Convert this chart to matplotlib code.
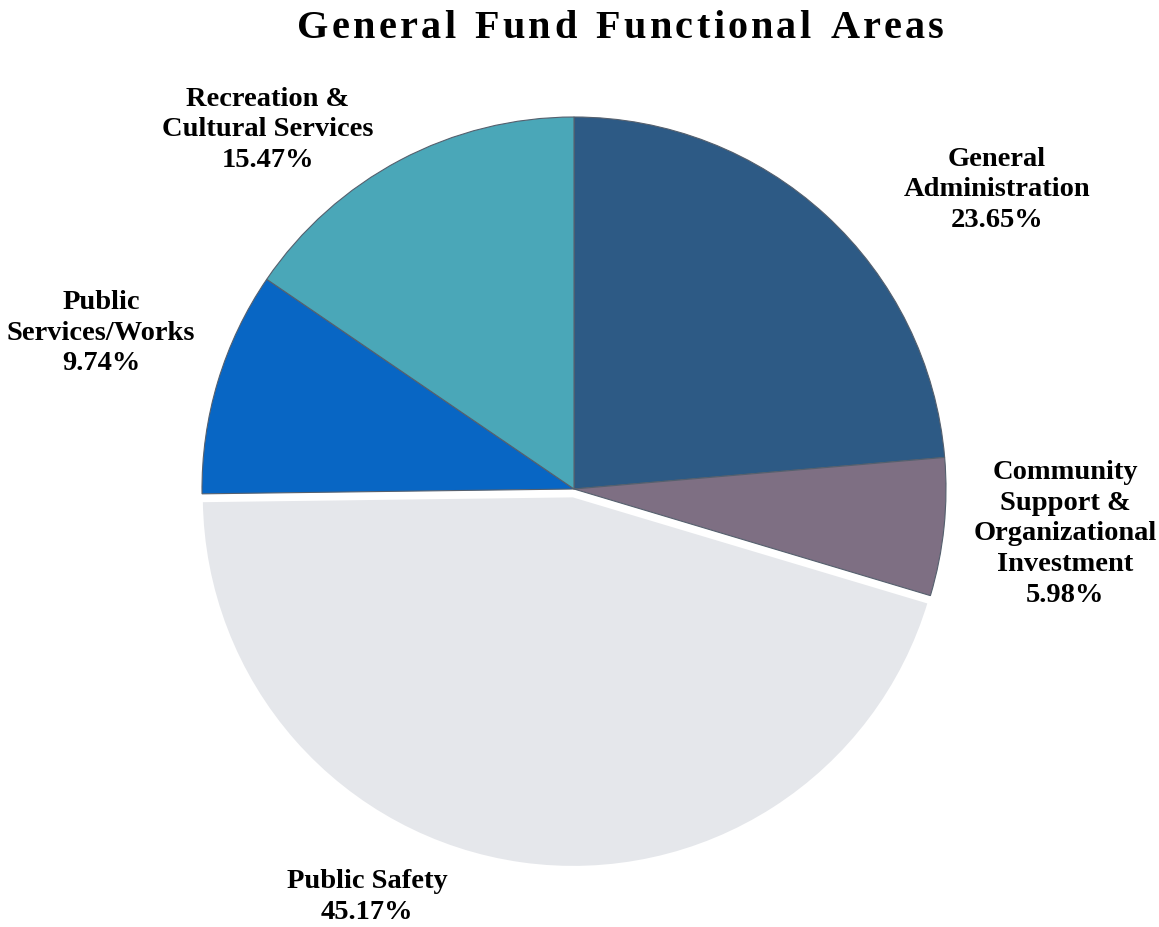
import matplotlib.pyplot as plt

categories = ["General\nAdministration", "Community\nSupport &\nOrganizational\nInvestment",
              "Public Safety", "Public\nServices/Works", "Recreation &\nCultural Services"]
shares = [23.65, 5.98, 45.17, 9.74, 15.47]
colors = ["#2d5a85", "#7e6f83", "#e5e7eb", "#0866c4", "#4aa7b8"]
title = "General Fund Functional Areas"

W, H = 1159, 928
fig = plt.figure(figsize=(W / 100, H / 100), dpi=100)
renderer = fig.canvas.get_renderer()
serif = "Liberation Serif"

# pie axes placed so the circle sits at (574, 490) px with radius 372 px
cx, cy, r = 574, 490, 372
ax = fig.add_axes([(cx - r) / W, (H - cy - r) / H, 2 * r / W, 2 * r / H])
wedges, _ = ax.pie(shares, colors=colors, startangle=90, counterclock=False,
                   explode=[0, 0, 0.018, 0, 0], radius=1,
                   wedgeprops=dict(edgecolor="#55606e", linewidth=0.8))
wedges[2].set_edgecolor("white")
wedges[2].set_linewidth(2.5)
ax.set_xlim(-1, 1)
ax.set_ylim(-1, 1)
ax.set_aspect("equal")
ax.axis("off")


def spaced_text(s, x0, x1, y, space=13.0, **kw):
    """Draw s letter by letter, spread evenly between pixel x0 and x1."""
    chars = []
    for ch in s:
        if ch == " ":
            chars.append((None, space))
            continue
        t = fig.text(0, 1 - y / H, ch, va="baseline", ha="left", **kw)
        chars.append((t, t.get_window_extent(renderer).width))
    natural = sum(w for _, w in chars)
    gap = (x1 - x0 - natural) / (len(chars) - 1)
    x = x0
    for t, w in chars:
        if t is not None:
            t.set_x(x / W)
        x += w + gap


spaced_text(title, 297, 944, 38, fontsize=29, fontweight="bold", family=serif)

# label anchor points in pixels (centre of each text block)
label_xy = [(997, 190), (1065, 534), (367, 897), (101, 333), (268, 130)]
for name, val, (x, y) in zip(categories, shares, label_xy):
    fig.text(x / W, 1 - y / H, f"{name}\n{val:.2f}%", ha="center", va="center",
             fontsize=20.5, fontweight="bold", family=serif, linespacing=1.3)

fig.savefig("out.png", dpi=100)
